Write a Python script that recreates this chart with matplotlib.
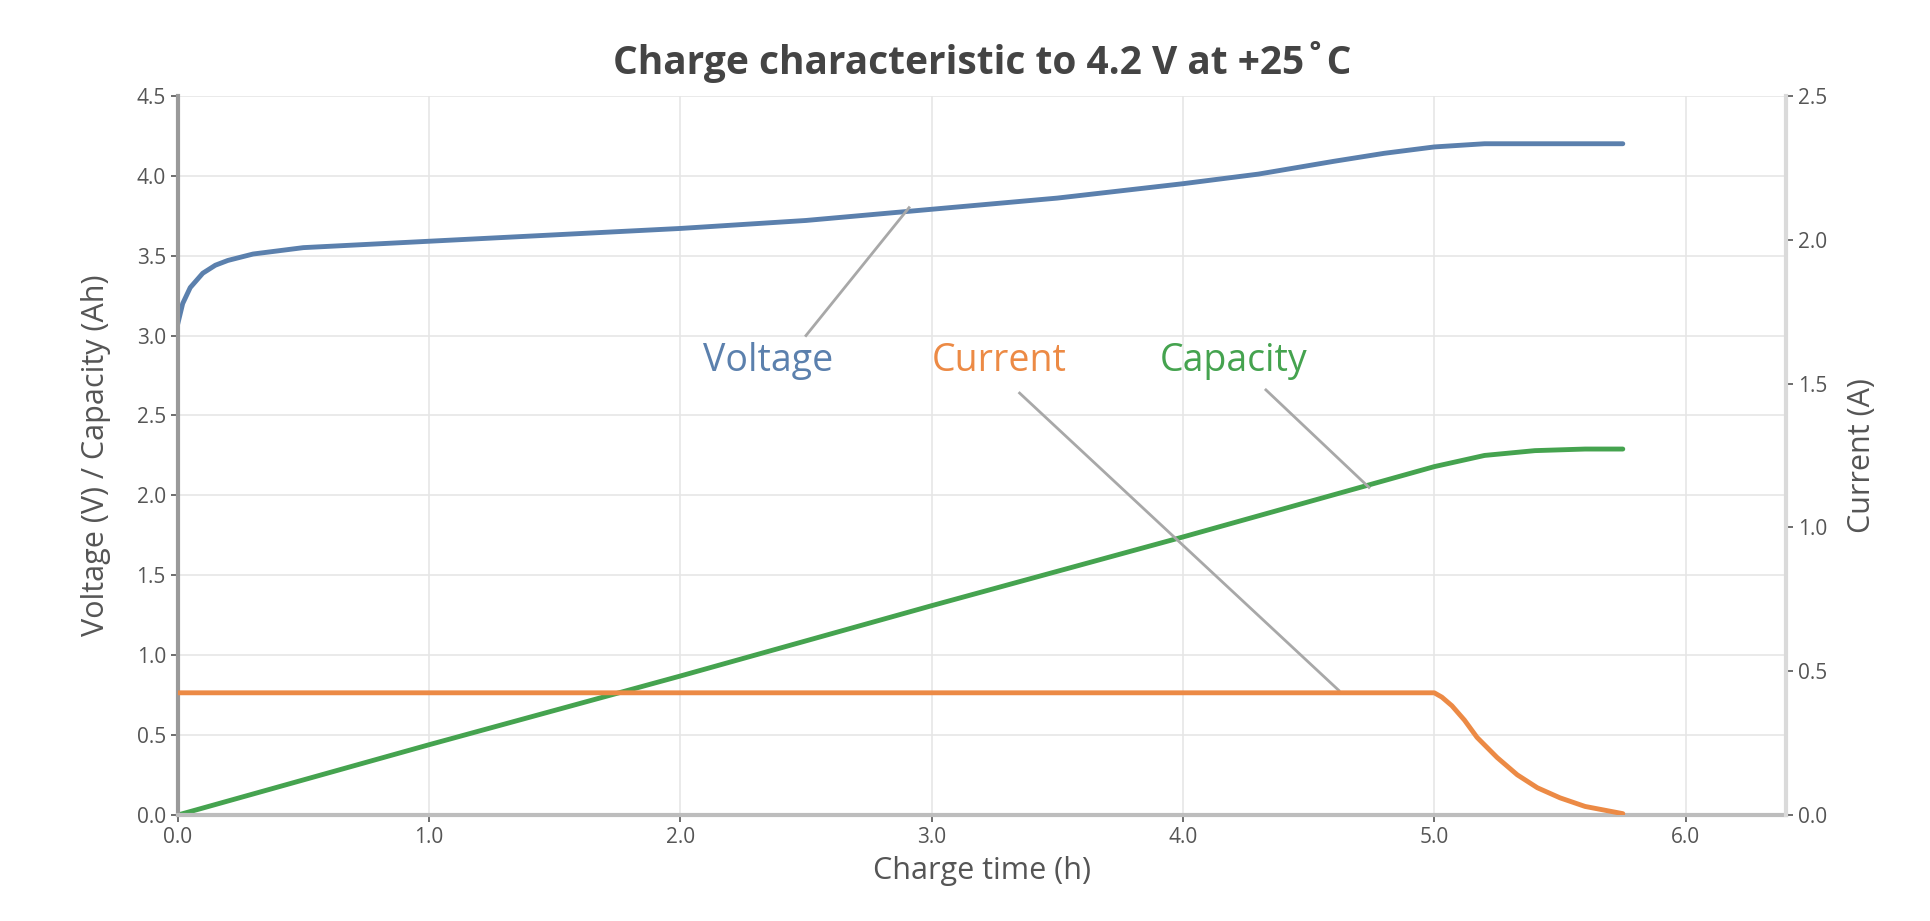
import numpy as np
import matplotlib.pyplot as plt
import matplotlib.ticker as ticker

plt.rcParams["font.family"] = ["Open Sans", "DejaVu Sans"]

# --- data ---
volt_t = [0, 0.02, 0.05, 0.1, 0.15, 0.2, 0.3, 0.4, 0.5, 0.75, 1.0, 1.5, 2.0,
          2.5, 3.0, 3.5, 4.0, 4.3, 4.6, 4.8, 5.0, 5.2, 5.4, 5.75]
volt_v = [3.07, 3.20, 3.30, 3.39, 3.44, 3.47, 3.51, 3.53, 3.55, 3.57, 3.59,
          3.63, 3.67, 3.72, 3.79, 3.86, 3.95, 4.01, 4.09, 4.14, 4.18, 4.20,
          4.20, 4.20]

curr_t = [0, 5.0, 5.03, 5.07, 5.12, 5.17, 5.25, 5.33, 5.41, 5.5, 5.6, 5.75]
curr_a = [0.425, 0.425, 0.41, 0.38, 0.33, 0.27, 0.20, 0.14, 0.095, 0.06, 0.03, 0.005]

cap_t = [0, 1.0, 2.0, 3.0, 4.0, 5.0, 5.2, 5.4, 5.6, 5.75]
cap_ah = [0, 0.44, 0.87, 1.31, 1.74, 2.18, 2.25, 2.28, 2.29, 2.29]

x_ticks = [0, 1, 2, 3, 4, 5, 6]
left_ticks = [0, 0.5, 1.0, 1.5, 2.0, 2.5, 3.0, 3.5, 4.0, 4.5]
right_ticks = [0, 0.5, 1.0, 1.5, 2.0, 2.5]
# -------------------------

c_volt = "#5b80ad"
c_curr = "#ec8a45"
c_cap = "#45a34f"
c_text = "#555555"
c_lead = "#a8a8a8"

fig = plt.figure(figsize=(19.31, 9.21), dpi=100)
ax = fig.add_axes([0.092, 0.115, 0.833, 0.781])
ax2 = ax.twinx()

ax.plot(volt_t, volt_v, color=c_volt, lw=3.5, solid_capstyle="round")
ax.plot(cap_t, cap_ah, color=c_cap, lw=3.5, solid_capstyle="round")
ax2.plot(curr_t, curr_a, color=c_curr, lw=3.5, solid_capstyle="round")

ax.set_xlim(0, 6.4)
ax.set_ylim(0, 4.5)
ax2.set_ylim(0, 2.5)
ax.set_xticks(x_ticks)
ax.set_yticks(left_ticks)
ax2.set_yticks(right_ticks)
ax.xaxis.set_major_formatter(ticker.FormatStrFormatter("%.1f"))
ax.yaxis.set_major_formatter(ticker.FormatStrFormatter("%.1f"))
ax2.yaxis.set_major_formatter(ticker.FormatStrFormatter("%.1f"))

ax.grid(True, color="#e6e6e6", lw=1.2)
ax.set_axisbelow(True)

for a in (ax, ax2):
    a.tick_params(colors=c_text, labelsize=15, length=5, width=1.2)
    a.spines["top"].set_visible(False)
ax.spines["left"].set_color("#9a9a9a")
ax.spines["left"].set_linewidth(3)
ax.spines["bottom"].set_color("#bdbdbd")
ax.spines["bottom"].set_linewidth(3)
ax.spines["right"].set_visible(False)
ax2.spines["left"].set_visible(False)
ax2.spines["bottom"].set_visible(False)
ax2.spines["right"].set_color("#dadada")
ax2.spines["right"].set_linewidth(3)

ax.set_xlabel("Charge time (h)", fontsize=22, color=c_text, labelpad=6)
ax.set_ylabel("Voltage (V) / Capacity (Ah)", fontsize=22, color=c_text, labelpad=18)
ax2.set_ylabel("Current (A)", fontsize=22, color=c_text, labelpad=14)
ax.set_title("Charge characteristic to 4.2 V at +25˚C", fontsize=28,
             fontweight="bold", color="#444444", pad=16)

# labels with leader lines
ax.plot([2.5, 2.91], [3.0, 3.80], color=c_lead, lw=2)
ax.plot([3.35, 4.62], [2.64, 0.78], color=c_lead, lw=2)
ax.plot([4.33, 4.74], [2.66, 2.05], color=c_lead, lw=2)
ax.text(2.35, 2.84, "Voltage", color=c_volt, fontsize=27, ha="center", va="center")
ax.text(3.27, 2.84, "Current", color=c_curr, fontsize=27, ha="center", va="center")
ax.text(4.2, 2.84, "Capacity", color=c_cap, fontsize=27, ha="center", va="center")

plt.savefig("out.png")
